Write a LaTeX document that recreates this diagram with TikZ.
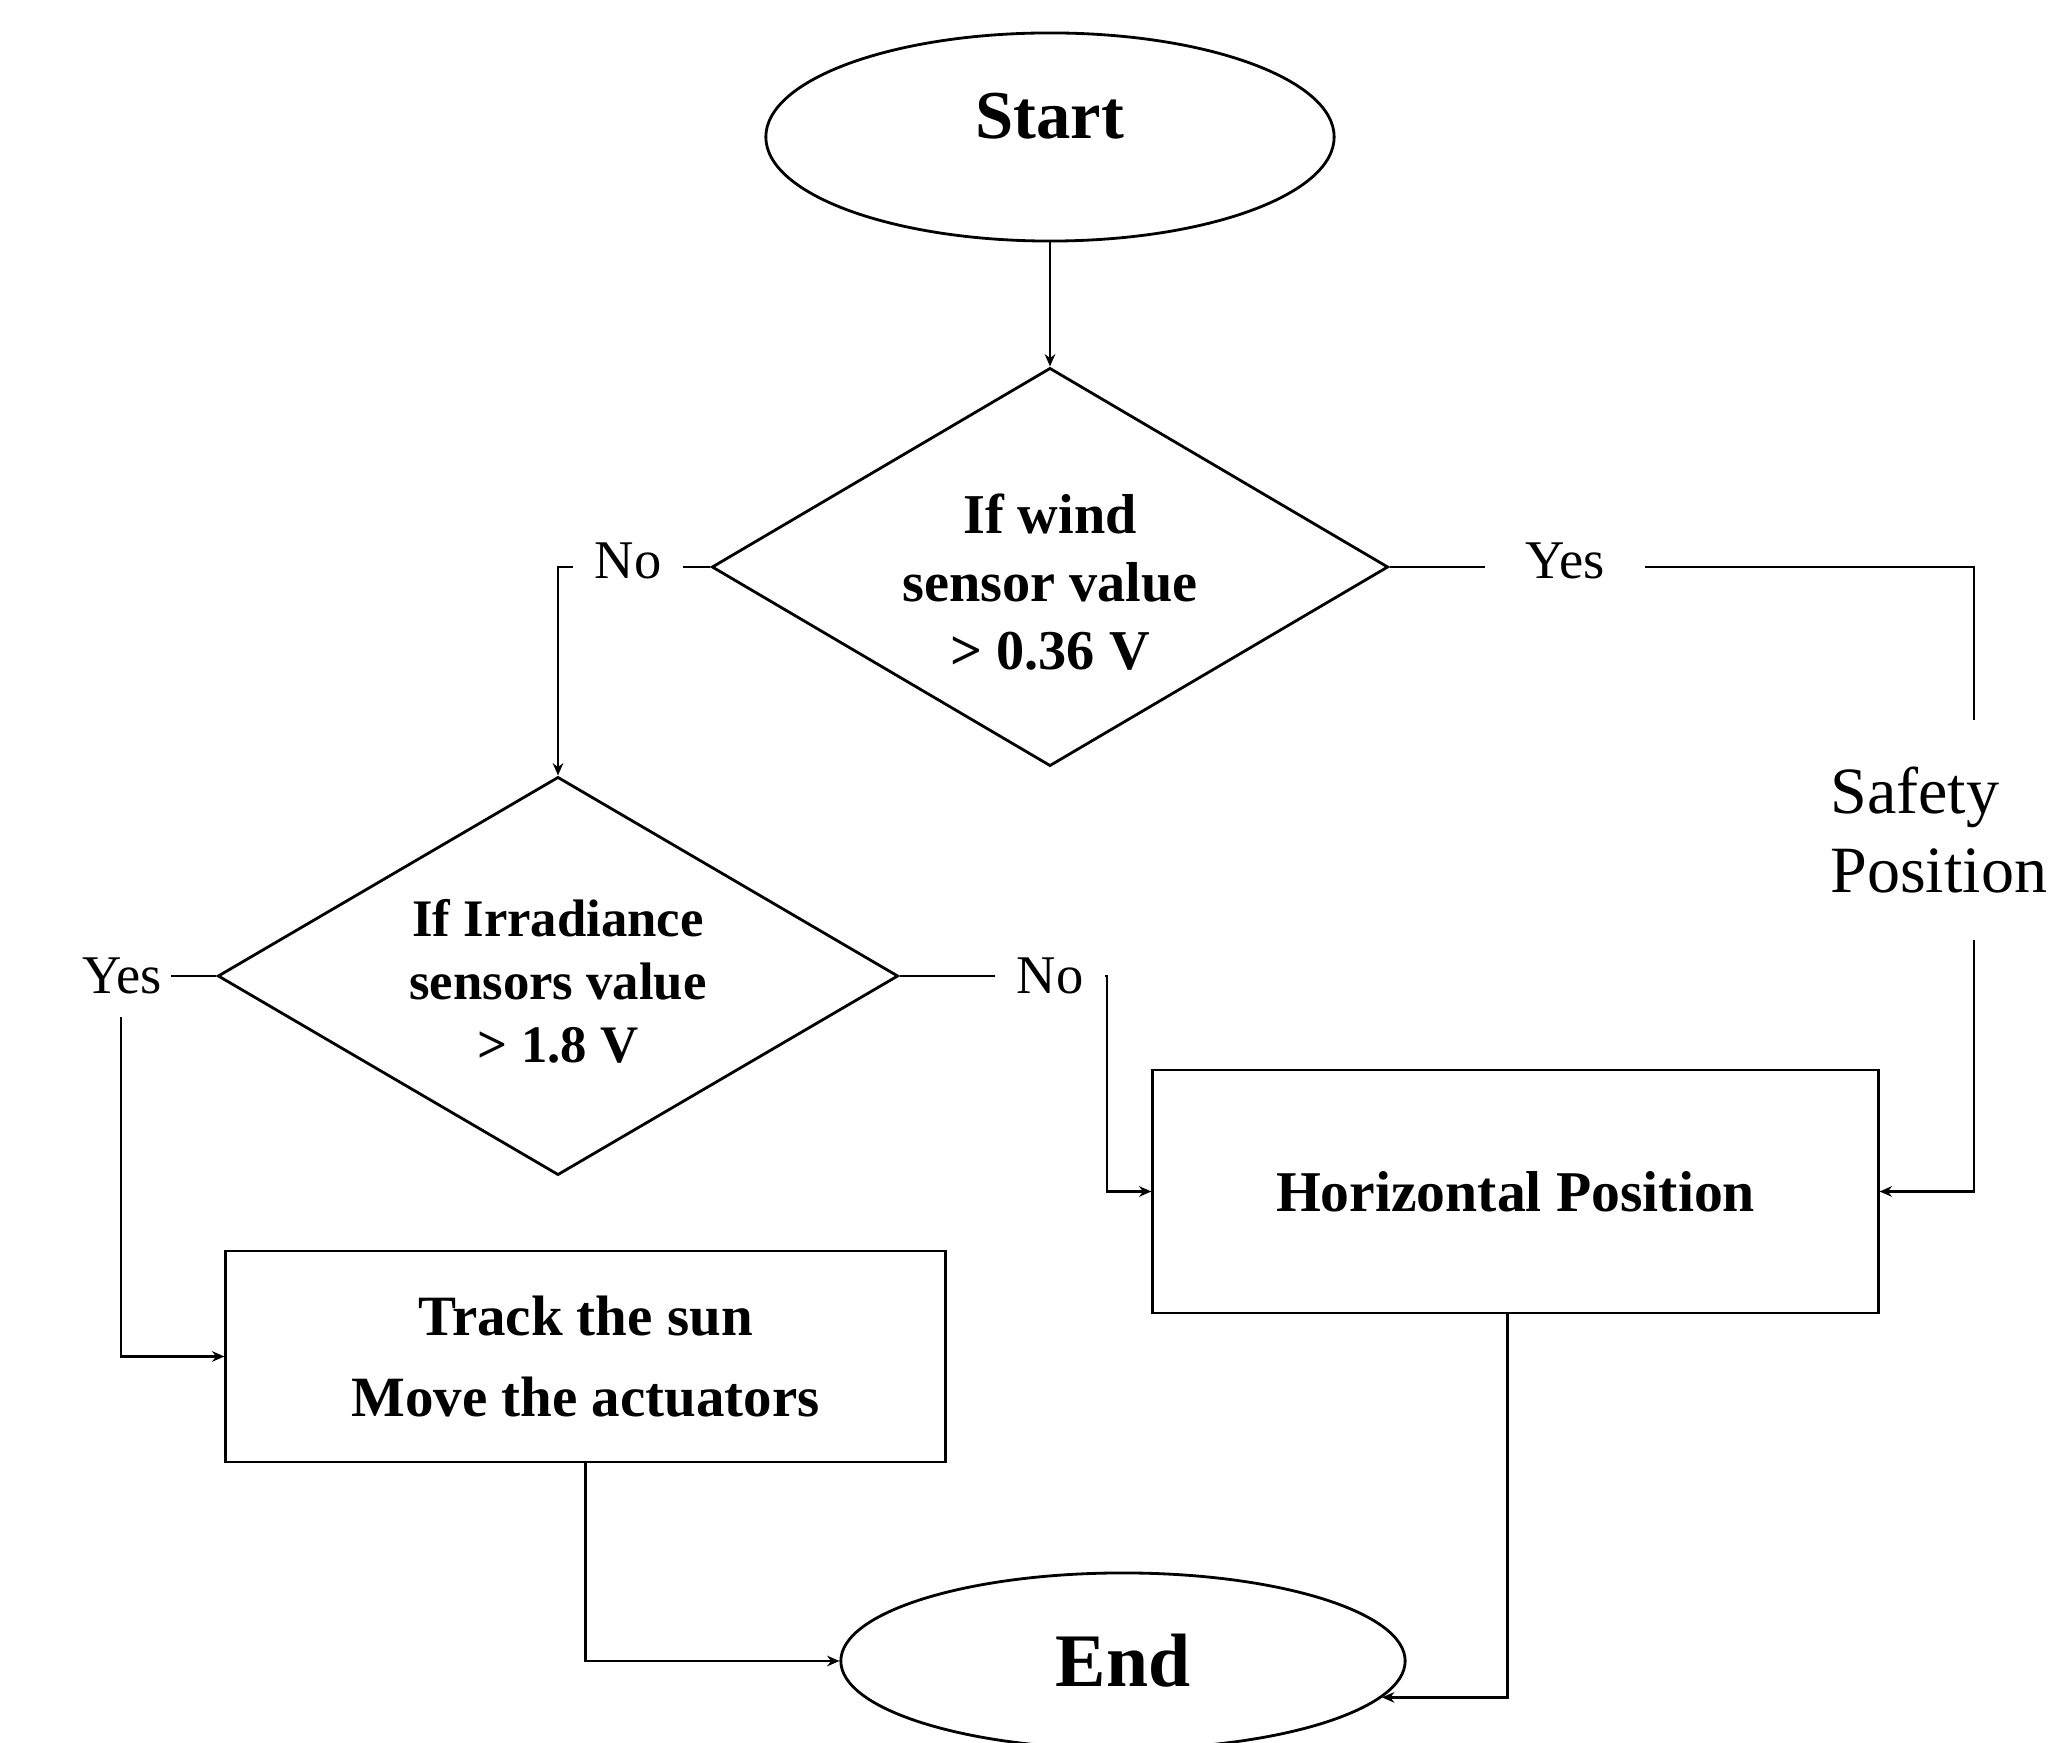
\documentclass[tikz,border=0pt]{standalone}
\usepackage{fontspec}
\setmainfont{Liberation Serif}
\usetikzlibrary{shapes.geometric,arrows.meta}
\newcommand{\shiftlines}[2]{\raisebox{#1}[\height][\depth]{\begin{tabular}{@{}c@{}}#2\end{tabular}}}
\begin{document}
\begin{tikzpicture}[x=0.01cm,y=-0.01cm,line width=0.8pt,
  arr/.style={-{Stealth[length=3.5pt,width=3pt]}},
  term/.style={ellipse,draw,inner sep=0pt},
  dec/.style={diamond,draw,aspect=1.7,inner sep=0pt,align=center},
  proc/.style={rectangle,draw,inner sep=0pt,align=center},
  lab/.style={fill=white,inner sep=0pt,font=\fontsize{15.5}{18}\selectfont}]
\useasboundingbox (0,0) rectangle (2059,1743);
\fill[white] (0,0) rectangle (2059,1743);

% shapes
\node[term,minimum width=5.68cm,minimum height=2.08cm,
      font=\fontsize{19.5}{23}\selectfont\bfseries] (start) at (1050,137)
      {\raisebox{0.21cm}[\height][\depth]{Start}};
\node[dec,minimum width=6.76cm,minimum height=3.98cm,
      font=\fontsize{16}{19.4}\selectfont\bfseries] (d1) at (1050,567)
      {\shiftlines{-0.21cm}{If wind\\sensor value\\> 0.36 V}};
\node[dec,minimum width=6.80cm,minimum height=3.98cm,
      font=\fontsize{15}{18}\selectfont\bfseries] (d2) at (558,976)
      {\shiftlines{-0.11cm}{If Irradiance\\sensors value\\> 1.8 V}};
\node[proc,minimum width=7.19cm,minimum height=2.11cm,
      font=\fontsize{16.2}{23}\selectfont\bfseries] (track) at (585.5,1356.5)
      {Track the sun\\Move the actuators};
\node[proc,minimum width=7.25cm,minimum height=2.43cm,
      font=\fontsize{16.4}{20}\selectfont\bfseries] (h) at (1515.5,1191.5)
      {Horizontal Position};
\node[term,minimum width=5.64cm,minimum height=1.76cm,
      font=\fontsize{21.5}{25}\selectfont\bfseries] (end) at (1123,1661)
      {End};

% routing points
\coordinate (rt) at (1974,567);
\coordinate (lt) at (121,976);
\coordinate (rt2) at (1107,976);
\coordinate (hb) at (1507.5,1313.5);

% connectors
\draw[arr] (start.south) -- (d1.north);
\draw[arr] (d1.west) -| (d2.north);
\draw[arr] (d1.east) -- (rt) |- (h.east);
\draw[arr] (d2.west) -- (lt) |- (track.west);
\draw[arr] (d2.east) -- (rt2) |- (h.west);
\draw[arr] (track.south) |- (end.west);
\draw[arr] (hb) |- (end.-8);

% labels
\node[lab,minimum width=1.09cm] (no1) at (628,561) {No};
\node[lab,minimum width=1.6cm] (yes1) at (1565,561) {Yes};
\node[lab,align=left,anchor=west,minimum height=2.19cm,
      font=\fontsize{18.8}{22.4}\selectfont] (safe) at (1829,830)
      {Safety\\Position};
\node[lab,minimum width=0.98cm,minimum height=0.82cm] (yes2) at (122,976) {Yes};
\node[lab,minimum width=1.1cm] (no2) at (1050,976) {No};
\end{tikzpicture}
\end{document}
